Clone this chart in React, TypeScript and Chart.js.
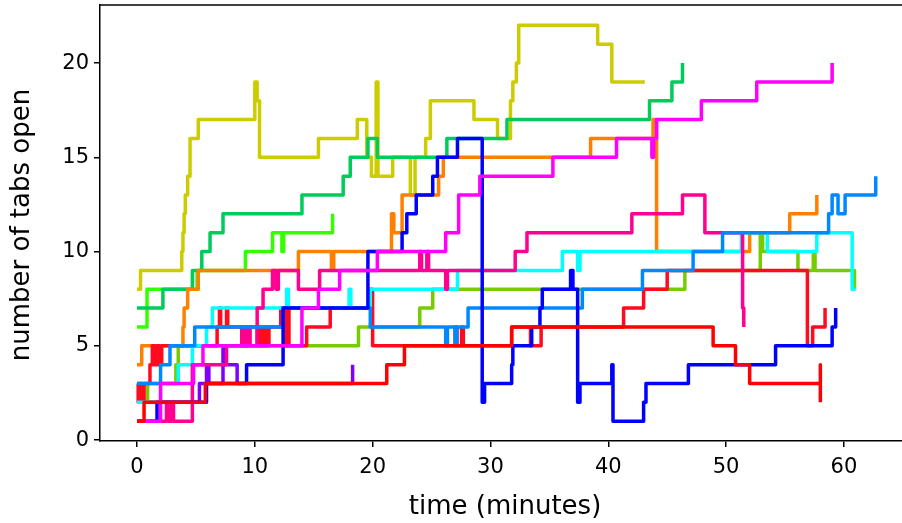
import React, { useEffect, useRef } from "react";
import { Chart, registerables } from "chart.js";
Chart.register(...registerables);

const xTicks = [0, 10, 20, 30, 40, 50, 60];
const yTicks = [0, 5, 10, 15, 20];
const xTitle = "time (minutes)";
const yTitle = "number of tabs open";

const oliveT = [0, 0.3, 3.8, 3.9, 4.0, 4.1, 4.3, 4.5, 5.2, 10.0, 10.2, 10.4, 15.4, 18.7, 19.5, 19.9, 20.3, 20.45, 21.7, 23.2, 23.6, 24.5, 24.9, 28.6, 30.6, 31.7, 31.9, 32.2, 32.4, 39.1, 40.3, 43.1];
const oliveV = [8, 9, 10, 11, 12, 13, 14, 16, 17, 19, 18, 15, 16, 17, 15, 14, 19, 14, 15, 13, 15, 16, 18, 17, 16, 18, 19, 20, 22, 21, 19, 19];

const greenT = [0, 2.2, 4.7, 5.5, 6.2, 7.3, 14.0, 17.5, 18.1, 19.6, 20.4, 26.3, 31.4, 43.5, 45.4, 46.3];
const greenV = [7, 8, 9, 10, 11, 12, 13, 14, 15, 16, 15, 16, 17, 18, 19, 20];

const limeT = [0, 0.85, 5.1, 9.2, 11.5, 12.3, 12.45, 16.6];
const limeV = [6, 8, 9, 10, 11, 10, 11, 12];

const orangeT = [0, 0.4, 3.9, 4.0, 4.3, 5.2, 13.7, 16.5, 16.7, 21.6, 21.8, 22.5, 25.6, 26.0, 38.5, 43.8, 44.1, 52.0, 55.4, 57.7];
const orangeV = [4, 5, 6, 7, 8, 9, 10, 9, 10, 12, 11, 13, 14, 15, 16, 17, 10, 11, 12, 13];

const magentaT = [0, 2.0, 4.8, 5.6, 14.0, 15.4, 17.2, 20.4, 26.2, 27.3, 29.1, 35.3, 40.7, 43.7, 43.85, 44.1, 47.9, 52.6, 59.0];
const magentaV = [1, 3, 4, 5, 7, 8, 9, 10, 11, 13, 14, 15, 16, 15, 16, 17, 18, 19, 20];

const pinkT = [0, 2.5, 2.65, 2.95, 3.1, 4.7, 7.6, 8.9, 9.2, 9.35, 9.6, 10.2, 10.7, 11.5, 11.8, 12.0, 13.7, 15.5, 24.0, 24.15, 24.6, 24.75, 26.2, 26.35, 32.1, 33.1, 42.0, 46.3, 48.2, 51.4, 51.5];
const pinkV = [1, 2, 1, 2, 1, 4, 5, 6, 5, 6, 5, 7, 8, 9, 8, 9, 8, 9, 10, 9, 10, 9, 8, 9, 10, 11, 12, 13, 11, 7, 6];

const blueT = [0, 1.7, 5.9, 9.3, 12.4, 19.6, 22.5, 22.9, 23.7, 25.1, 25.5, 27.2, 29.3, 29.5, 31.8, 31.9, 33.5, 34.2, 34.4, 36.8, 37.0, 37.4, 37.6, 40.3, 40.4, 43.0, 43.2, 46.8, 54.2, 59.0, 59.3];
const blueV = [1, 2, 3, 4, 7, 10, 11, 12, 13, 14, 15, 16, 2, 3, 4, 5, 6, 7, 8, 9, 8, 2, 3, 4, 1, 2, 3, 4, 5, 6, 7];

const skyT = [0, 2.0, 2.8, 4.9, 12.4, 19.8, 26.2, 26.35, 27.0, 27.15, 28.1, 37.8, 42.9, 47.2, 49.7, 58.7, 59.0, 59.5, 60.1, 62.7];
const skyV = [3, 4, 5, 6, 7, 6, 5, 6, 5, 6, 7, 8, 9, 10, 11, 12, 13, 12, 13, 14];

const cyanT = [0, 2.0, 3.5, 4.7, 5.9, 6.4, 12.7, 12.85, 18.0, 18.15, 19.8, 27.2, 36.1, 37.4, 37.6, 51.3, 53.5, 57.7, 60.7, 61.0];
const cyanV = [2, 3, 4, 5, 6, 7, 8, 7, 8, 7, 8, 9, 10, 9, 10, 11, 10, 11, 8, 8];

const ygT = [0, 0.9, 3.3, 3.5, 18.8, 24.0, 25.1, 46.5, 52.9, 53.1, 56.1, 57.4, 57.55, 60.9];
const ygV = [2, 3, 4, 5, 6, 7, 8, 9, 11, 10, 9, 10, 9, 8];

const redAT = [0, 0.6, 5.8, 21.2, 22.7, 31.8, 48.9, 50.8, 52.0, 58.0, 58.0];
const redAV = [1, 2, 3, 4, 5, 6, 5, 4, 3, 4, 2];

const redBT = [0, 0.1, 0.2, 0.5, 0.6, 1.1, 1.3, 1.5, 1.7, 1.9, 2.1, 6.8, 7.0, 7.1, 7.6, 7.7, 8.9, 9.1, 9.3, 9.5, 10.2, 10.4, 10.6, 10.8, 11.0, 11.2, 12.2, 12.5, 12.7, 12.9, 14.4, 16.4, 19.7, 20.0, 27.0, 27.15, 27.55, 27.7, 31.8, 33.4, 34.3, 41.3, 43.0, 45.0, 56.9, 57.35, 58.4];
const redBV = [3, 2, 3, 2, 3, 4, 5, 4, 5, 4, 5, 6, 7, 6, 7, 6, 5, 6, 5, 6, 5, 6, 5, 6, 5, 6, 7, 5, 7, 5, 6, 7, 8, 5, 6, 5, 6, 5, 6, 5, 6, 7, 8, 9, 5, 6, 7];

const purpleT = [0, 5.3, 5.9, 6.1, 7.3, 7.45, 8.5, 18.3];
const purpleV = [2, 3, 4, 3, 5, 4, 3, 4];

const seriesNames = ["redA", "magenta", "blue", "sky", "pink", "cyan", "redB", "orange", "yellowgreen", "purple", "green", "lime", "olive"];
const seriesColors = ["#ff0000", "#ff00ff", "#0000ff", "#0088ff", "#ff0090", "#00ffff", "#ff0a1e", "#ff8000", "#77cc00", "#7f00ff", "#00cc5c", "#33ff00", "#cccc00"];
const seriesT = [redAT, magentaT, blueT, skyT, pinkT, cyanT, redBT, orangeT, ygT, purpleT, greenT, limeT, oliveT];
const seriesV = [redAV, magentaV, blueV, skyV, pinkV, cyanV, redBV, orangeV, ygV, purpleV, greenV, limeV, oliveV];

const FONT = "DejaVu Sans";

export default function App() {
  const ref = useRef<HTMLCanvasElement | null>(null);
  useEffect(() => {
    if (!ref.current) return;
    const datasets = seriesNames.map((name, i) => ({
      label: name,
      data: seriesT[i].map((x, j) => ({ x, y: seriesV[i][j] })),
      borderColor: seriesColors[i],
      backgroundColor: seriesColors[i],
      borderWidth: 3.5,
      pointRadius: 0,
      stepped: "before" as const,
      fill: false,
      tension: 0,
      borderJoinStyle: "round" as const,
      borderCapStyle: "butt" as const,
    }));
    const framePlugin = {
      id: "frame",
      afterDraw(chart: any) {
        const { ctx, chartArea } = chart;
        ctx.save();
        ctx.strokeStyle = "#000";
        ctx.lineWidth = 1.5;
        ctx.beginPath();
        ctx.moveTo(chartArea.left, chartArea.top);
        ctx.lineTo(chartArea.right, chartArea.top);
        ctx.stroke();
        ctx.fillStyle = "#000";
        ctx.font = `26px "${FONT}"`;
        ctx.textAlign = "center";
        ctx.textBaseline = "middle";
        ctx.fillText(xTitle, 505, 507);
        ctx.translate(22, 225);
        ctx.rotate(-Math.PI / 2);
        ctx.fillText(yTitle, 0, 0);
        ctx.restore();
      },
    };
    const chart = new Chart(ref.current, {
      type: "line",
      data: { datasets },
      options: {
        animation: false,
        responsive: false,
        maintainAspectRatio: false,
        layout: { padding: { top: 5, left: 0, right: 0, bottom: 0 } },
        plugins: { legend: { display: false }, tooltip: { enabled: false } },
        scales: {
          x: {
            type: "linear",
            min: -3.14,
            max: 64.93,
            afterBuildTicks: (s: any) => {
              s.ticks = xTicks.map((v) => ({ value: v }));
            },
            afterFit: (s: any) => {
              s.height = 82;
              s.paddingLeft = 0;
              s.paddingRight = 0;
            },
            ticks: { color: "#000", font: { family: FONT, size: 21 }, padding: 8, maxRotation: 0, autoSkip: false },
            grid: { display: true, drawOnChartArea: false, drawTicks: true, tickLength: 6, color: "#000", lineWidth: 1.5 },
            border: { display: true, color: "#000", width: 1.5 },
          },
          y: {
            type: "linear",
            min: -0.05,
            max: 23.08,
            afterBuildTicks: (s: any) => {
              s.ticks = yTicks.map((v) => ({ value: v }));
            },
            afterFit: (s: any) => {
              s.width = 100;
              s.paddingTop = 0;
              s.paddingBottom = 0;
            },
            ticks: { color: "#000", font: { family: FONT, size: 21 }, padding: 5, autoSkip: false },
            grid: { display: true, drawOnChartArea: false, drawTicks: true, tickLength: 6, color: "#000", lineWidth: 1.5 },
            border: { display: true, color: "#000", width: 1.5 },
          },
        },
      },
      plugins: [framePlugin],
    } as any);
    return () => chart.destroy();
  }, []);
  return (
    <div style={{ position: "absolute", left: 0, top: 0, width: 902, height: 523, background: "#fff" }}>
      <canvas ref={ref} width={902} height={523} style={{ width: 902, height: 523, display: "block" }} />
    </div>
  );
}
